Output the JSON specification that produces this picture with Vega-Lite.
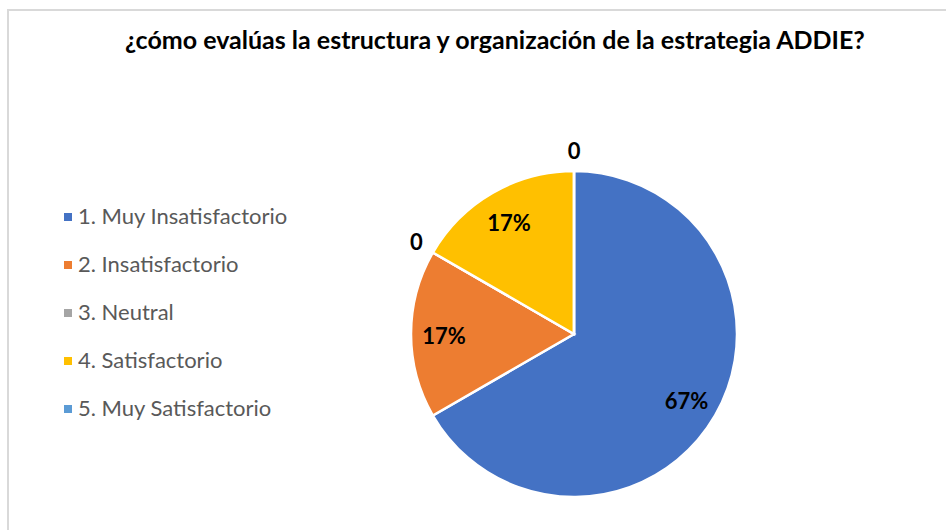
{
  "$schema": "https://vega.github.io/schema/vega-lite/v6.json",
  "autosize": "none",
  "padding": {"left": 8, "top": 10, "right": -194, "bottom": -128},
  "width": 1132,
  "height": 648,
  "background": "white",
  "view": {"stroke": "#D9D9D9", "strokeWidth": 2, "fill": "white"},
  "title": {
    "text": "¿cómo evalúas la estructura y organización de la estrategia ADDIE?",
    "font": "Lato",
    "fontSize": 25,
    "fontWeight": "bold",
    "color": "#000000",
    "anchor": "start",
    "frame": "group",
    "orient": "top",
    "baseline": "top",
    "offset": 0,
    "dx": 117,
    "dy": 44
  },
  "data": {
    "values": [
      {"categoria": "1. Muy Insatisfactorio", "n": 4, "pct": 0.6667},
      {"categoria": "2. Insatisfactorio", "n": 1, "pct": 0.1667},
      {"categoria": "3. Neutral", "n": 0, "pct": 0},
      {"categoria": "4. Satisfactorio", "n": 1, "pct": 0.1667},
      {"categoria": "5. Muy Satisfactorio", "n": 0, "pct": 0}
    ]
  },
  "encoding": {
    "theta": {"field": "n", "type": "quantitative", "stack": true},
    "order": {"field": "categoria", "type": "ordinal"},
    "color": {
      "field": "categoria",
      "type": "nominal",
      "scale": {
        "domain": ["1. Muy Insatisfactorio", "2. Insatisfactorio", "3. Neutral", "4. Satisfactorio", "5. Muy Satisfactorio"],
        "range": ["#4472C4", "#ED7D31", "#A5A5A5", "#FFC000", "#5B9BD5"]
      },
      "legend": {
        "title": null,
        "orient": "none",
        "legendX": 49,
        "legendY": 196,
        "padding": 0,
        "symbolType": "square",
        "symbolSize": 64,
        "symbolStrokeWidth": 0,
        "labelFont": "Lato",
        "labelFontSize": 22,
        "labelColor": "#595959",
        "labelOffset": -1,
        "labelLimit": 400,
        "rowPadding": 26
      }
    }
  },
  "layer": [
    {
      "mark": {"type": "arc", "radius": 163, "stroke": "white", "strokeWidth": 2.5}
    },
    {
      "mark": {"type": "text", "radius": 130, "font": "Lato", "fontSize": 22, "fontWeight": "bold", "dy": 3},
      "encoding": {
        "color": {"value": "#000000"},
        "text": {"condition": {"test": "datum.n > 0", "field": "pct", "type": "quantitative", "format": ".0%"}, "value": ""}
      }
    },
    {
      "mark": {"type": "text", "radius": 182, "font": "Lato", "fontSize": 22, "fontWeight": "bold", "dy": 0},
      "encoding": {
        "color": {"value": "#000000"},
        "text": {"condition": {"test": "datum.n == 0", "value": "0"}, "value": ""}
      }
    }
  ]
}
